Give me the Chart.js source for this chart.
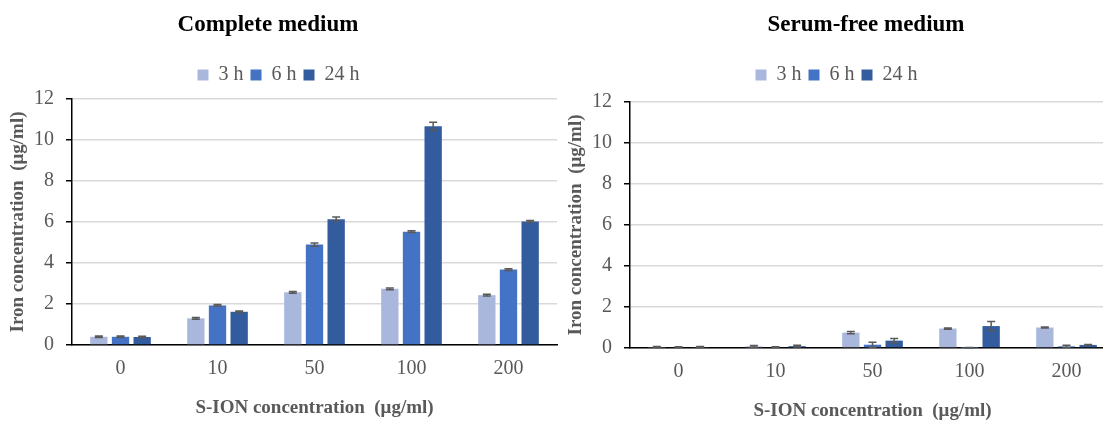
<!DOCTYPE html>
<html>
<head>
<meta charset="utf-8">
<script src="https://cdn.jsdelivr.net/npm/chart.js@4.4.1/dist/chart.umd.min.js"></script>
<style>
  body { margin: 0; width: 1103px; height: 428px; overflow: hidden; position: relative; background: #fff; }
  .box { position: absolute; width: 562px; height: 428px; }
  .box canvas { position: absolute; left: 0; top: 0; }
  .title { position: absolute; top: 10px; font: bold 23px "Liberation Serif", serif; line-height: 28px; color: #000; white-space: nowrap; transform: translateX(-50%); }
</style>
</head>
<body>
<div class="box" style="left:0;top:0"><canvas id="chartComplete" width="562" height="428"></canvas></div>
<div class="box" style="left:558px;top:3px"><canvas id="chartSerum" width="562" height="428"></canvas></div>
<div class="title" style="left:268px">Complete medium</div>
<div class="title" style="left:866px">Serum-free medium</div>
<script>
const categories = ['0', '10', '50', '100', '200'];
const seriesLabels = ['3 h', '6 h', '24 h'];
const seriesColors = ['#a9b7dc', '#4472c4', '#335c9e'];

// complete medium
const complete3h  = [0.40, 1.30, 2.57, 2.74, 2.43];
const complete6h  = [0.40, 1.93, 4.90, 5.53, 3.68];
const complete24h = [0.39, 1.62, 6.14, 10.67, 6.03];
const completeErr3h  = [0.04, 0.04, 0.04, 0.04, 0.04];
const completeErr6h  = [0.04, 0.04, 0.08, 0.04, 0.04];
const completeErr24h = [0.04, 0.04, 0.10, 0.20, 0.04];

// serum-free medium
const serum3h  = [0.05, 0.08, 0.75, 0.95, 1.00];
const serum6h  = [0.04, 0.04, 0.16, 0.01, 0.08];
const serum24h = [0.05, 0.09, 0.36, 1.07, 0.15];
const serumErr3h  = [0.02, 0.04, 0.06, 0.03, 0.03];
const serumErr6h  = [0.02, 0.02, 0.12, 0.01, 0.05];
const serumErr24h = [0.02, 0.04, 0.10, 0.22, 0.02];

const FONT = 'Liberation Serif';
const GREY = '#595959';

// draws the +/- error whiskers on top of each bar
const errorBars = {
  id: 'errorBars',
  afterDatasetsDraw(chart) {
    const ctx = chart.ctx;
    const y = chart.scales.y;
    ctx.save();
    ctx.strokeStyle = GREY;
    ctx.lineWidth = 1.5;
    chart.data.datasets.forEach((ds, i) => {
      chart.getDatasetMeta(i).data.forEach((bar, j) => {
        const top = y.getPixelForValue(ds.data[j] + ds.errors[j]);
        const bot = y.getPixelForValue(ds.data[j] - ds.errors[j]);
        ctx.beginPath();
        ctx.moveTo(bar.x, top); ctx.lineTo(bar.x, bot);
        ctx.moveTo(bar.x - 4, top); ctx.lineTo(bar.x + 4, top);
        ctx.moveTo(bar.x - 4, bot); ctx.lineTo(bar.x + 4, bot);
        ctx.stroke();
      });
    });
    ctx.restore();
  }
};

// moves the legend up a little, leaving the plot where it is
const legendLift = {
  id: 'legendLift',
  afterLayout(chart, args, opts) {
    chart.legend.top -= opts.dy;
    chart.legend.bottom -= opts.dy;
  }
};

function makeChart(id, values, errors, lift) {
  const datasets = seriesLabels.map((label, i) => ({
    label: label,
    data: values[i],
    errors: errors[i],
    backgroundColor: seriesColors[i],
    borderWidth: 0,
    barPercentage: 0.8,
    categoryPercentage: 0.67
  }));
  return new Chart(document.getElementById(id), {
    type: 'bar',
    data: { labels: categories, datasets: datasets },
    plugins: [errorBars, legendLift],
    options: {
      responsive: false,
      animation: false,
      layout: { padding: { top: 62, right: 5, left: 0, bottom: 0 } },
      plugins: {
        legend: {
          position: 'top',
          labels: { color: GREY, font: { family: FONT, size: 20 }, boxWidth: 11, boxHeight: 11, padding: 7 }
        },
        legendLift: { dy: lift },
        tooltip: { enabled: false }
      },
      scales: {
        x: {
          grid: { display: false, drawTicks: false },
          border: { color: '#000', width: 1.5 },
          ticks: { color: GREY, font: { family: FONT, size: 20 }, padding: 12 },
          title: {
            display: true,
            text: 'S-ION concentration  (μg/ml)',
            color: GREY,
            font: { family: FONT, size: 19, weight: 'bold' },
            padding: { top: 0, bottom: 9 }
          },
          afterFit: s => { s.height = 83; }
        },
        y: {
          min: 0,
          max: 12,
          ticks: { stepSize: 2, color: GREY, font: { family: FONT, size: 20 }, padding: 12 },
          grid: { color: '#d9d9d9', lineWidth: 1.5, tickColor: '#000', tickLength: 6 },
          border: { color: '#000', width: 1.5 },
          title: {
            display: true,
            text: 'Iron concentration  (μg/ml)',
            color: GREY,
            font: { family: FONT, size: 19, weight: 'bold' },
            padding: { top: 7, bottom: 0 }
          },
          afterFit: s => { s.width = 72; }
        }
      }
    }
  });
}

makeChart('chartComplete', [complete3h, complete6h, complete24h], [completeErr3h, completeErr6h, completeErr24h], 4);
makeChart('chartSerum', [serum3h, serum6h, serum24h], [serumErr3h, serumErr6h, serumErr24h], 7);
</script>
</body>
</html>
